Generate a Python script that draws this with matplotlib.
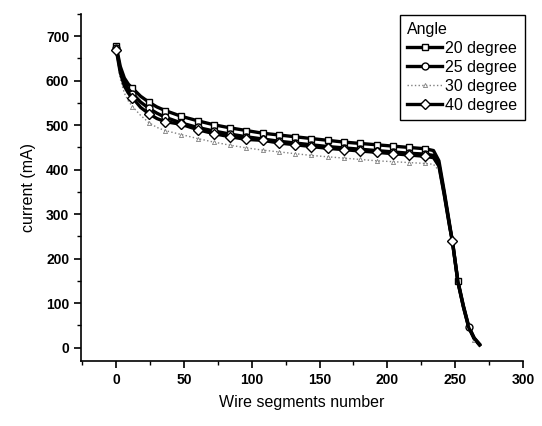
import numpy as np
import matplotlib.pyplot as plt
from matplotlib.ticker import MultipleLocator

plt.rcParams['font.family'] = ['Liberation Sans', 'DejaVu Sans']

# wire segment index (common grid for all curves)
segmentos = [0, 3, 6, 9, 12, 18, 24, 30, 36, 48, 60, 72, 84, 96, 108, 120, 132, 144,
             156, 168, 180, 192, 204, 216, 228, 234, 238, 242, 246, 248, 252, 256,
             260, 264, 268]

corriente_20 = [677, 632, 606, 592, 583, 565, 552, 541, 533, 520, 510, 501, 494, 488,
                482, 478, 474, 470, 466, 462, 459, 456, 453, 450, 447, 443, 420, 350,
                275, 238, 150, 95, 48, 22, 8]
corriente_25 = [674, 624, 596, 581, 571, 552, 538, 527, 518, 505, 495, 487, 480, 474,
                469, 464, 460, 456, 452, 449, 446, 443, 440, 437, 435, 432, 412, 345,
                272, 236, 148, 93, 46, 20, 6]
corriente_30 = [668, 604, 572, 554, 542, 522, 506, 495, 488, 479, 470, 462, 455, 449,
                444, 440, 436, 432, 429, 426, 423, 420, 418, 416, 414, 412, 398, 336,
                266, 230, 143, 89, 43, 18, 5]
corriente_40 = [670, 618, 588, 572, 562, 540, 526, 515, 508, 502, 490, 481, 474, 468,
                466, 460, 456, 452, 448, 445, 442, 439, 436, 433, 430, 427, 408, 342,
                270, 240, 147, 92, 45, 21, 6]

etiquetas = ['20 degree', '25 degree', '30 degree', '40 degree']

fig = plt.figure(figsize=(5.42, 4.26), dpi=100)
ax = fig.add_axes([0.1494, 0.1526, 0.8155, 0.8146])

marcas = [0, 4, 6, 8] + list(range(9, 25))
ax.plot(segmentos, corriente_20, color='black', lw=2.4, marker='s', ms=5,
        mfc='white', mec='black', mew=1, markevery=marcas + [30],
        label=etiquetas[0])
ax.plot(segmentos, corriente_25, color='black', lw=2.4, marker='o', ms=5,
        mfc='white', mec='black', mew=1, markevery=marcas + [32],
        label=etiquetas[1])
ax.plot(segmentos, corriente_30, color='#808080', lw=1.0, ls=':', marker='^', ms=3,
        mfc='white', mec='#808080', mew=0.6, markevery=marcas + [33],
        label=etiquetas[2])
ax.plot(segmentos, corriente_40, color='black', lw=2.4, marker='D', ms=5.5,
        mfc='white', mec='black', mew=1, markevery=marcas + [29],
        label=etiquetas[3])

ax.set_xlim(-26, 300)
ax.set_ylim(-30, 750)
ax.xaxis.set_major_locator(MultipleLocator(50))
ax.xaxis.set_minor_locator(MultipleLocator(25))
ax.yaxis.set_major_locator(MultipleLocator(100))
ax.yaxis.set_minor_locator(MultipleLocator(50))
ax.spines['top'].set_visible(False)
ax.spines['right'].set_visible(False)
ax.spines['left'].set_linewidth(1.2)
ax.spines['bottom'].set_linewidth(1.2)
ax.tick_params(which='major', direction='out', length=5, width=1.2, labelsize=10)
ax.tick_params(which='minor', direction='out', length=3, width=1)
for t in ax.get_xticklabels() + ax.get_yticklabels():
    t.set_fontweight('bold')

ax.set_xlabel('Wire segments number', fontsize=11.5, labelpad=6)
ax.set_ylabel('current (mA)', fontsize=11.5, labelpad=7)

leg = ax.legend(title='Angle', loc='upper right', bbox_to_anchor=(0.983, 0.984),
                bbox_transform=fig.transFigure, fontsize=11.5, title_fontsize=11.5,
                fancybox=False, edgecolor='black', framealpha=1, handlelength=2.2,
                handletextpad=0.2, borderpad=0.45, labelspacing=0.25)
leg._legend_box.align = 'left'
leg.get_frame().set_linewidth(1)

fig.savefig('out.png', dpi=100)
